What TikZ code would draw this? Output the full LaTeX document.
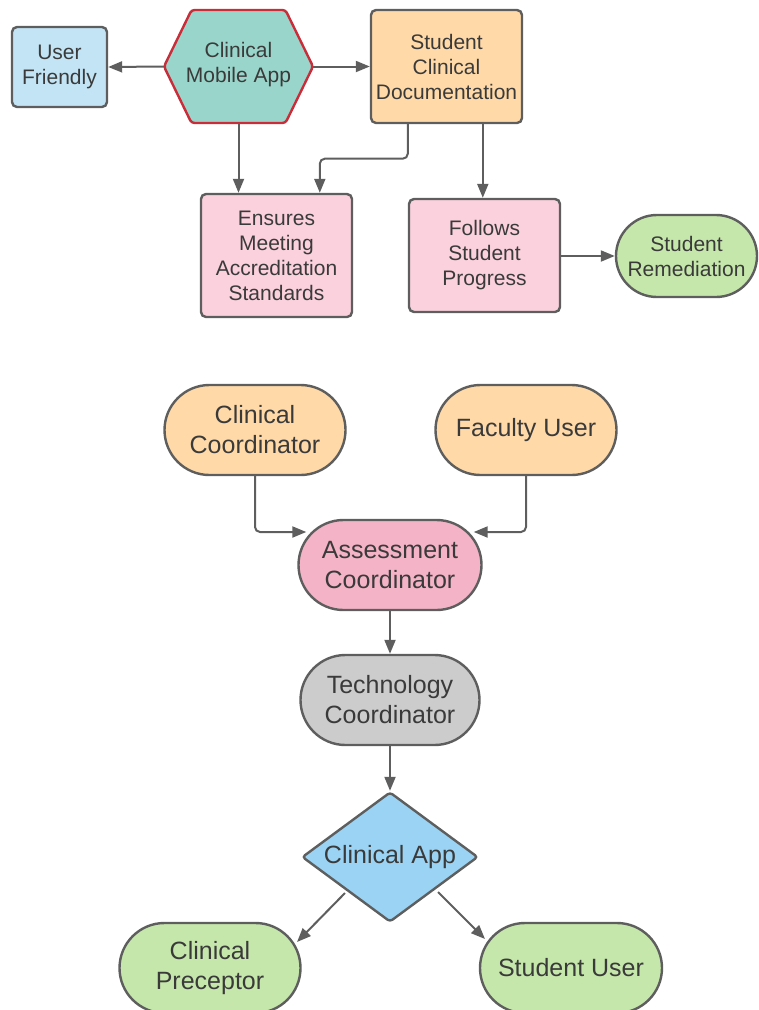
\documentclass[tikz,border=0pt]{standalone}
\usepackage{fontspec}
\setmainfont{Liberation Sans}
\usetikzlibrary{arrows.meta,calc,shapes.geometric}

\definecolor{edge}{HTML}{5E5E5E}
\definecolor{ink}{HTML}{3A3A3A}
\definecolor{hexred}{HTML}{C92D39}
\definecolor{teal}{HTML}{99D5CA}
\definecolor{skyblue}{HTML}{C3E4F5}
\definecolor{peach}{HTML}{FFDAA8}
\definecolor{blush}{HTML}{FAD1DD}
\definecolor{rose}{HTML}{F4B3C7}
\definecolor{mint}{HTML}{C6E7AB}
\definecolor{silver}{HTML}{CCCCCC}
\definecolor{azure}{HTML}{9AD3F3}

\tikzset{
  base/.style={draw=edge, line width=2.4pt, inner sep=0pt, align=center,
    text=ink, font=\fontsize{21}{25}\selectfont},
  card/.style={base, rectangle, rounded corners=5pt},
  pillsmall/.style={base, rectangle, rounded corners=41pt,
    minimum width=141pt, minimum height=82pt},
  pill/.style={base, rectangle, rounded corners=45pt,
    minimum width=181pt, minimum height=90pt,
    font=\fontsize{25}{30}\selectfont},
  link/.style={draw=edge, line width=2pt, rounded corners=5pt,
    -{Triangle[length=14pt,width=11pt]}},
}

\begin{document}
\begin{tikzpicture}[x=1pt, y=-1pt]
  \useasboundingbox (0,0) rectangle (759,1010);
  \clip (0,0) rectangle (759,1010);

  % ---------- upper chart ----------
  \node[card, fill=skyblue, minimum width=95pt, minimum height=80pt]
    (uf) at (59.5,67) {User\\Friendly};

  % hexagon for the mobile app
  \node[inner sep=0pt, minimum width=149pt, minimum height=113pt]
    (app) at (238.5,66.5) {};
  \draw[draw=hexred, fill=teal, line width=2.4pt, rounded corners=3pt]
    ($(app.center)+(-74.5,0)$) -- ($(app.center)+(-47,-56.5)$)
    -- ($(app.center)+(47,-56.5)$) -- ($(app.center)+(74.5,0)$)
    -- ($(app.center)+(47,56.5)$) -- ($(app.center)+(-47,56.5)$) -- cycle;
  \node[text=ink, align=center, font=\fontsize{21}{25}\selectfont]
    at ($(app.center)+(0,-2)$) {Clinical\\Mobile App};

  \node[card, fill=peach, minimum width=151pt, minimum height=113pt]
    (scd) at (446.5,66.5) {Student\\Clinical\\Documentation};
  \node[card, fill=blush, minimum width=151pt, minimum height=123pt]
    (ems) at (276.5,255.5) {Ensures\\Meeting\\Accreditation\\Standards};
  \node[card, fill=blush, minimum width=151pt, minimum height=113pt]
    (fsp) at (484.5,255.5) {Follows\\Student\\Progress};
  \node[pillsmall, fill=mint] (rem) at (686.5,256) {Student\\Remediation};

  \draw[link] (app.west) -- (uf.east);
  \draw[link] (app.east) -- (scd.west);
  \draw[link] (app.south) -- (app.south |- ems.north);
  \draw[link] ($(scd.south west)+(38,0)$) -- ++(0,34.5)
    -| ($(ems.north west)+(120,0)$);
  \draw[link] ($(scd.south west)+(113,0)$) -- ($(fsp.north west)+(75,0)$);
  \draw[link] (fsp.east |- rem.west) -- (rem.west);

  % ---------- lower chart ----------
  \node[pill, fill=peach] (cc) at (255,430) {Clinical\\Coordinator};
  \node[pill, fill=peach] (fu) at (526,430) {Faculty User};
  \node[pill, fill=rose, minimum width=183pt] (ac) at (390,565) {Assessment\\Coordinator};
  \node[pill, fill=silver, minimum width=179pt] (tc) at (390,700) {Technology\\Coordinator};
  \node[base, diamond, aspect=1.354, fill=azure, rounded corners=3pt,
    minimum width=176pt, minimum height=130pt,
    font=\fontsize{25}{30}\selectfont] (ca) at (390,857) {Clinical App};
  \node[pill, fill=mint] (cp) at (210,968) {Clinical\\Preceptor};
  \node[pill, fill=mint, minimum width=182pt] (su) at (571,968) {Student User};

  \coordinate (acleft)  at ($(ac.west)+(9,-33)$);
  \coordinate (acright) at ($(ac.east)+(-9,-33)$);
  \coordinate (cpin)    at ($(cp.center)+(87,-26)$);
  \coordinate (suin)    at ($(su.center)+(-86,-29)$);
  \coordinate (caleft)  at ($(ca.center)+(-45,36)$);
  \coordinate (caright) at ($(ca.center)+(48,35)$);

  \draw[link] (cc.south) |- (acleft);
  \draw[link] (fu.south) |- (acright);
  \draw[link] (ac.south) -- (tc.north);
  \draw[link] (tc.south) -- (ca.north);
  \draw[link, rounded corners=0pt] (caleft) -- (cpin);
  \draw[link, rounded corners=0pt] (caright) -- (suin);
\end{tikzpicture}
\end{document}
